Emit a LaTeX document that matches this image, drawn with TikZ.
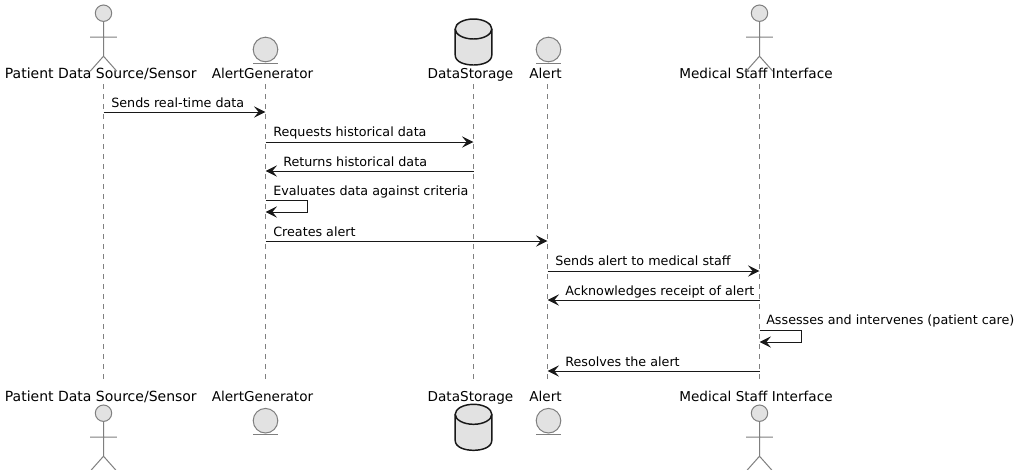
\documentclass[tikz,border=0pt]{standalone}
\usepackage{fontspec}
\setmainfont{DejaVu Sans}
\usetikzlibrary{arrows.meta}
\definecolor{Body}{HTML}{E2E2E2}
\definecolor{Edge}{HTML}{7F7F7F}
\definecolor{Lifeline}{HTML}{808080}
\definecolor{Ink}{HTML}{181818}

\begin{document}
\begin{tikzpicture}[
  x=.75pt,y=-.75pt,
  party/.style = {font=\fontsize{10.2}{12}\selectfont,text=black,inner sep=0pt,anchor=base},
  lifeline/.style = {Lifeline,line width=.75pt,dash pattern=on 3.75pt off 3.75pt},
  msg/.style = {Ink,line width=.75pt,-{Stealth[length=8.6pt,width=8.4pt,inset=3.4pt]}},
  msgtext/.style = {font=\fontsize{9.55}{12}\selectfont,text=black,inner sep=0pt,anchor=base west},
  figure/.style = {draw=Edge,line width=.75pt,fill=Body},
  actor/.pic = {
    \draw[figure] (0,-8.3) circle (8.2);
    \draw[Edge,line width=.75pt] (0,0) -- (0,34.7) (-13.3,15.7) -- (13.3,15.7)
      (-13.3,49.7) -- (0,34.7) -- (13.3,49.7);
  },
  entity/.pic = {
    \draw[figure] (0,0) circle (12.3);
    \draw[Edge,line width=.75pt] (-12.5,13.6) -- (12.5,13.6);
  },
  database/.pic = {
    \draw[figure,draw=Ink,line width=1.1pt] (-18.3,0)
      arc[start angle=180,end angle=360,x radius=18.3,y radius=10] -- (18.3,26)
      .. controls (18.3,33) and (9,36) .. (0,36)
      .. controls (-9,36) and (-18.3,33) .. (-18.3,26) -- cycle;
    \draw[Ink,line width=1.1pt] (-18.3,0)
      arc[start angle=180,end angle=0,x radius=18.3,y radius=10];
  }
  ]
  \useasboundingbox[fill=white] (0,0) rectangle (1022,469);
  % lifelines and the points the messages hang on
  \foreach \name/\xpos in {src/103.5,gen/265.5,store/473.5,alert/547.5,staff/759.5} {
    \coordinate (\name top) at (\xpos,84);
    \coordinate (\name bot) at (\xpos,379);
    \draw[lifeline] (\name top) -- (\name bot);
    \foreach \ypos in {112,142,171,200,212,241,271,300,330,342,371}
      \coordinate (\name\ypos) at (\xpos,\ypos);
  }
  % heads
  \foreach \tag/\base in {A/78,B/401} {
    \node[party,font=\fontsize{10.5}{12}\selectfont] (src\tag) at (100.8,\base) {Patient Data Source/Sensor};
    \node[party] (gen\tag)   at (262.5,\base) {AlertGenerator};
    \node[party] (store\tag) at (470.5,\base) {DataStorage};
    \node[party] (alert\tag) at (545.5,\base) {Alert};
    \node[party] (staff\tag) at (756,\base) {Medical Staff Interface};
  }
  \pic at (103.5,21.5) {actor};
  \pic at (759.5,21.5) {actor};
  \pic at (103.5,421.5) {actor};
  \pic at (759.5,421.5) {actor};
  \pic at (265.5,49.5) {entity};
  \pic at (548.5,49.5) {entity};
  \pic at (265.5,420.7) {entity};
  \pic at (548.5,420.7) {entity};
  \pic at (473.5,29) {database};
  \pic at (473.5,414.3) {database};
  % messages
  \draw[msg] (src112) -- (gen112);
  \node[msgtext] (m1) at (111,107) {Sends real-time data};
  \draw[msg] (gen142) -- (store142);
  \node[msgtext] (m2) at (273,136.5) {Requests historical data};
  \draw[msg] (store171) -- (gen171);
  \node[msgtext] (m3) at (283,166) {Returns historical data};
  \draw[msg] (gen200) -| (307,212) -- (gen212);
  \node[msgtext] (m4) at (273,195) {Evaluates data against criteria};
  \draw[msg] (gen241) -- (alert241);
  \node[msgtext] (m5) at (273,236.5) {Creates alert};
  \draw[msg] (alert271) -- (staff271);
  \node[msgtext] (m6) at (555,265.5) {Sends alert to medical staff};
  \draw[msg] (staff300) -- (alert300);
  \node[msgtext] (m7) at (565,295) {Acknowledges receipt of alert};
  \draw[msg] (staff330) -| (801,342) -- (staff342);
  \node[msgtext] (m8) at (766,324) {Assesses and intervenes (patient care)};
  \draw[msg] (staff371) -- (alert371);
  \node[msgtext] (m9) at (565,366) {Resolves the alert};
\end{tikzpicture}
\end{document}
